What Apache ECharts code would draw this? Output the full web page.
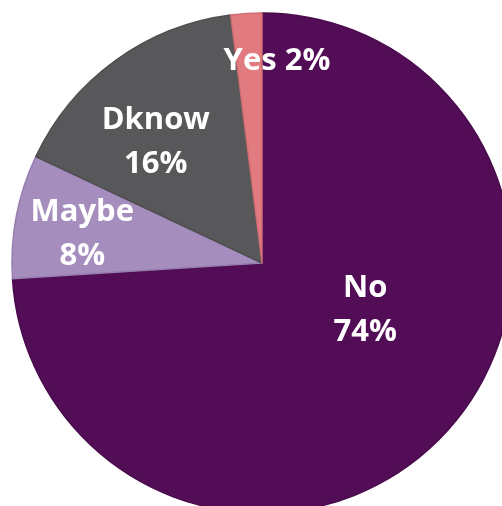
<!DOCTYPE html>
<html>
<head>
<meta charset="utf-8">
<script src="https://cdn.jsdelivr.net/npm/echarts@6/dist/echarts.min.js"></script>
<style>
  html, body { margin: 0; padding: 0; background: #fff; }
  #chart { width: 502px; height: 506px; }
</style>
</head>
<body>
<div id="chart"></div>
<script>
// Survey answers, clockwise from 12 o'clock
const categories = ['No', 'Maybe', 'Dknow', 'Yes'];
const values = [74, 8, 16, 2];
const colors = ['#520D56', '#A58DBE', '#58585B', '#E27B7F'];
const edgeColors = ['#4A0B4D', '#967EAF', '#4E4E50', '#CF6E72'];
// Label text per slice ("\n" splits into two lines)
const labelTexts = ['No\n74%', 'Maybe\n8%', 'Dknow\n16%', 'Yes 2%'];
// Nudges from the default inside-label spot
const labelOffsets = [[10, -40], [-54, -5], [-31, -17], [23, -74]];

const chart = echarts.init(document.getElementById('chart'));
chart.setOption({
  animation: false,
  series: [{
    type: 'pie',
    center: [262, 263],
    radius: [0, 250],
    startAngle: 90,
    clockwise: true,
    avoidLabelOverlap: false,
    label: {
      show: true,
      position: 'inside',
      color: '#ffffff',
      fontFamily: 'Open Sans',
      fontWeight: 'bold',
      fontSize: 31,
      lineHeight: 44
    },
    labelLine: { show: false },
    emphasis: { disabled: true },
    data: categories.map((name, i) => ({
      name,
      value: values[i],
      itemStyle: { color: colors[i], borderColor: edgeColors[i], borderWidth: 1.5 },
      label: { formatter: labelTexts[i], offset: labelOffsets[i] }
    }))
  }]
});
</script>
</body>
</html>
